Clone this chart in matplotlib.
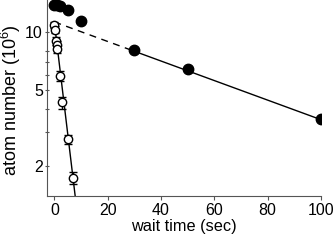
import numpy as np
import matplotlib
matplotlib.use("Agg")
import matplotlib.pyplot as plt
from matplotlib.ticker import FixedLocator, FixedFormatter, NullFormatter

plt.rcParams["font.family"] = ["Liberation Sans", "DejaVu Sans"]
plt.rcParams["mathtext.default"] = "regular"

# filled circles (long lifetime)
t_filled = [0, 1, 2, 5, 10, 30, 50, 100]
n_filled = [13.9, 13.8, 13.7, 13.0, 11.4, 8.05, 6.4, 3.52]

# open circles (short lifetime) with error bars
t_open = [0, 0.3, 0.5, 0.8, 1, 2, 3, 5, 7]
n_open = [10.9, 10.3, 9.0, 8.55, 8.2, 5.9, 4.3, 2.77, 1.74]
err_open = [0.4, 0.4, 0.4, 0.4, 0.4, 0.35, 0.3, 0.15, 0.12]

# exponential fits (straight on log axis), given by end points
fit_long_dash_t = [0, 30]
fit_long_dash_n = [11.3, 7.95]
fit_long_t = [30, 100]
fit_long_n = [7.95, 3.5]
fit_short_t = [0, 8]
fit_short_n = [11.2, 1.33]

y_major = [2, 5, 10]
y_minor = [3, 4, 6, 7, 8]
x_ticks = [0, 20, 40, 60, 80, 100]

fig = plt.figure(figsize=(3.36, 2.42), dpi=100)
ax = fig.add_axes([0.140, 0.19, 0.815, 0.81])

ax.plot(fit_long_dash_t, fit_long_dash_n, color="black", lw=1, ls=(0, (5, 4)))
ax.plot(fit_long_t, fit_long_n, color="black", lw=1)
ax.plot(fit_short_t, fit_short_n, color="black", lw=1)

ax.errorbar(t_open, n_open, yerr=err_open, fmt="o", mfc="white", mec="black",
            ecolor="black", ms=6, mew=1, elinewidth=1, capsize=3, capthick=1, zorder=3)
ax.plot(t_filled, n_filled, "o", color="black", ms=7.5, zorder=4)

ax.set_yscale("log")
ax.set_xlim(-2.75, 100)
ax.set_ylim(1.40, 14.7)

ax.yaxis.set_major_locator(FixedLocator(y_major))
ax.yaxis.set_major_formatter(FixedFormatter([str(v) for v in y_major]))
ax.yaxis.set_minor_locator(FixedLocator(y_minor))
ax.yaxis.set_minor_formatter(NullFormatter())
ax.set_xticks(x_ticks)

ax.tick_params(axis="y", which="both", direction="inout", length=3, width=0.8,
               labelsize=11.5, pad=1.5, color="#555555")
ax.tick_params(axis="x", direction="out", length=3, width=0.8, labelsize=11.5,
               pad=2, color="#555555")

ax.spines["top"].set_visible(False)
ax.spines["right"].set_visible(False)
ax.spines["left"].set_color("#555555")
ax.spines["bottom"].set_color("#555555")

ax.set_xlabel("wait time (sec)", fontsize=11.7, labelpad=1)
ax.set_ylabel("atom number (10$^{6}$)", fontsize=13)
ax.yaxis.set_label_coords(-0.088, 0.49)

fig.savefig("out.png", dpi=100)
